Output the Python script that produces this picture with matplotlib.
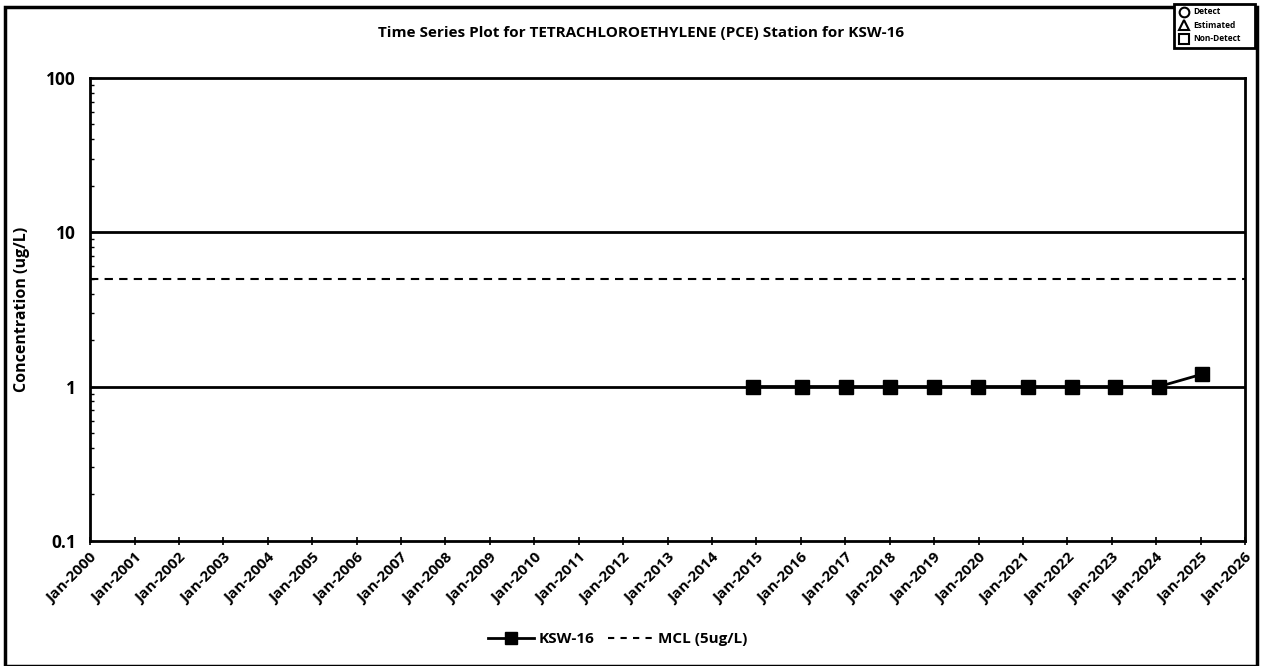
import matplotlib
matplotlib.use("Agg")
import matplotlib.pyplot as plt
from matplotlib.lines import Line2D
from matplotlib.patches import Rectangle
import datetime as dt

plt.rcParams['font.family'] = ['Open Sans', 'DejaVu Sans']

# sample dates and PCE results for KSW-16 (ug/L)
sample_dates = ["2014-12-01", "2016-01-10", "2017-01-05", "2018-01-05", "2018-12-30",
                "2019-12-30", "2021-02-15", "2022-02-05", "2023-01-25", "2024-01-25",
                "2025-01-10"]
pce_values = [1.0, 1.0, 1.0, 1.0, 1.0, 1.0, 1.0, 1.0, 1.0, 1.0, 1.2]
mcl_value = 5
tick_years = list(range(2000, 2027))

dates = [dt.datetime.strptime(d, "%Y-%m-%d") for d in sample_dates]

fig = plt.figure(figsize=(12.61, 6.66), dpi=100)
ax = fig.add_axes([0.0714, 0.188, 0.916, 0.695])

ax.set_yscale('log')
ax.set_ylim(0.1, 100)
ax.set_xlim(dt.datetime(2000, 1, 1), dt.datetime(2026, 1, 1))

# decade gridlines
for v in [1, 10]:
    ax.axhline(v, color='black', lw=2, zorder=1)

ax.axhline(mcl_value, color='black', lw=1.5, ls=(0, (4, 3)), zorder=2)
ax.plot(dates, pce_values, color='black', lw=2, marker='s', ms=10,
        markerfacecolor='black', zorder=3)

for s in ax.spines.values():
    s.set_linewidth(2)
    s.set_color('black')

ticks = [dt.datetime(y, 1, 1) for y in tick_years]
ax.set_xticks(ticks)
ax.set_xticklabels([t.strftime("Jan-%Y") for t in ticks], rotation=45,
                   ha='right', rotation_mode='anchor', fontsize=11, fontweight='bold')
ax.tick_params(axis='x', direction='inout', length=6, width=1.2, pad=4)

ax.set_yticks([0.1, 1, 10, 100])
ax.set_yticklabels(["0.1", "1", "10", "100"], fontsize=12.5, fontweight='bold')
ax.tick_params(axis='y', which='major', direction='in', length=3, width=1, pad=10)
ax.tick_params(axis='y', which='minor', direction='in', length=3, width=1)
ax.set_ylabel("Concentration (ug/L)", fontsize=11.5, fontweight='bold')
ax.yaxis.set_label_coords(-0.052, 0.5)

fig.text(0.508, 0.95, "Time Series Plot for TETRACHLOROETHYLENE (PCE) Station for KSW-16",
         ha='center', va='center', fontsize=11, fontweight='bold')

handles = [Line2D([], [], color='black', lw=2, marker='s', ms=8),
           Line2D([], [], color='black', lw=1.5, ls=(0, (3, 3)))]
fig.legend(handles, ["KSW-16", "MCL (5ug/L)"], loc='center', bbox_to_anchor=(0.49, 0.04),
           ncol=2, frameon=False, prop={'weight': 'bold', 'size': 11},
           handlelength=3.0, columnspacing=0.9, handletextpad=0.3)

# outer border
fig.add_artist(Rectangle((0.004, 0.0), 0.993, 0.99, transform=fig.transFigure,
                         fill=False, lw=2.5, ec='black'))

# symbol key box top right
fig.add_artist(Rectangle((0.931, 0.928), 0.064, 0.066, transform=fig.transFigure,
                         fill=True, fc='white', lw=2, ec='black', zorder=5))
key_items = [('o', "Detect"), ('^', "Estimated"), ('s', "Non-Detect")]
for i, (m, lab) in enumerate(key_items):
    yy = 0.982 - i * 0.02
    fig.add_artist(Line2D([0.939], [yy], marker=m, ms=7, mfc='white', mec='black',
                          mew=1.5, transform=fig.transFigure, zorder=6))
    fig.text(0.946, yy, lab, fontsize=6, fontweight='bold', va='center', zorder=6)

fig.savefig("out.png", dpi=100)
